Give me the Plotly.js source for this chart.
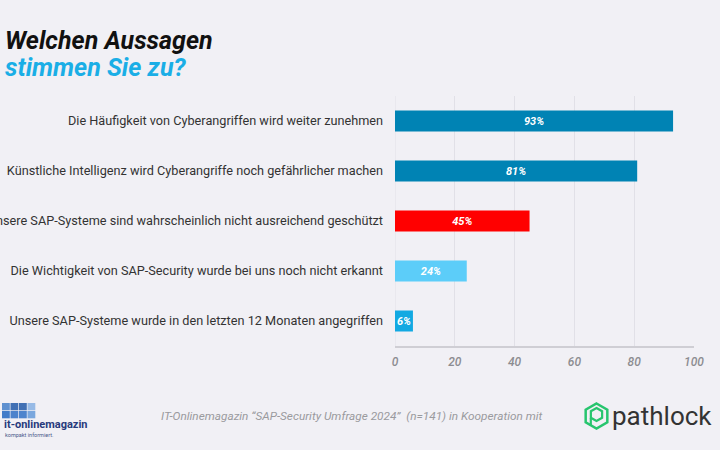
<!DOCTYPE html>
<html>
<head>
<meta charset="utf-8">
<script src="https://cdn.plot.ly/plotly-3.0.1.min.js"></script>
<style>
  html, body { margin: 0; padding: 0; background: #f1f0f5; }
  #chart { width: 720px; height: 450px; }
</style>
</head>
<body>
<div id="chart"></div>
<script>
// Survey statements (top to bottom) and share of agreement in percent
const statements = [
  "Die Häufigkeit von Cyberangriffen wird weiter zunehmen",
  "Künstliche Intelligenz wird Cyberangriffe noch gefährlicher machen",
  "Unsere SAP-Systeme sind wahrscheinlich nicht ausreichend geschützt",
  "Die Wichtigkeit von SAP-Security wurde bei uns noch nicht erkannt",
  "Unsere SAP-Systeme wurde in den letzten 12 Monaten angegriffen"
];
const agreement = [93, 81, 45, 24, 6];
const barColors = ["#0083b4", "#0083b4", "#ff0000", "#5ccdf9", "#12a9e2"];
const xTicks = [0, 20, 40, 60, 80, 100];

const W = 720, H = 450;
const M = { l: 395, r: 26, t: 96, b: 104 };
const plotW = W - M.l - M.r, plotH = H - M.t - M.b;
// pixel -> paper coordinates for decorations outside the plot area
const px = x => (x - M.l) / plotW;
const py = y => (H - M.b - y) / plotH;

const trace = {
  type: "bar",
  orientation: "h",
  y: statements,
  x: agreement,
  marker: { color: barColors, line: { width: 0 } },
  width: 0.42,
  text: agreement.map(v => "<b><i>" + v + "%</i></b>"),
  textposition: "inside",
  insidetextanchor: "middle",
  textangle: 0,
  constraintext: "none",
  textfont: { family: "Roboto", size: 11, color: "#ffffff" },
  hoverinfo: "none"
};

// it-onlinemagazin logo squares
const sq = [
  [2, 403, "#4f86cc"], [10.5, 403, "#2d62ad"], [19, 403, "#2d62ad"], [27.5, 403, "#8db4e4"],
  [2, 411, "#2f6fc4"], [10.5, 411, "#3a76c8"], [19, 411, "#3b78c9"], [27.5, 411, "#6d9edb"]
];
const shapes = sq.map(([x, y, c]) => ({
  type: "rect", xref: "paper", yref: "paper",
  x0: px(x), x1: px(x + 7.8), y0: py(y + 7.3), y1: py(y),
  fillcolor: c, line: { width: 0 }, opacity: 0.9
}));

// pathlock hexagon mark
function hexPath(cx, cy, r) {
  let d = "";
  for (let i = 0; i < 6; i++) {
    const a = Math.PI / 180 * (60 * i - 90);
    const x = px(cx + r * Math.cos(a)), y = py(cy + r * Math.sin(a));
    d += (i === 0 ? "M" : "L") + x + "," + y;
  }
  return d + "Z";
}
shapes.push({
  type: "path", xref: "paper", yref: "paper",
  path: hexPath(596.5, 416, 12.5), line: { color: "#27c56e", width: 2.5 }
});
shapes.push({
  type: "path", xref: "paper", yref: "paper",
  path: hexPath(596.5, 414.5, 6.5), line: { color: "#27c56e", width: 2.2 }
});
shapes.push({
  type: "line", xref: "paper", yref: "paper",
  x0: px(590.8), x1: px(590.8), y0: py(418), y1: py(426),
  line: { color: "#27c56e", width: 2.2 }
});

const annotations = [
  {
    xref: "paper", yref: "paper", x: px(3), y: py(40),
    xanchor: "left", yanchor: "middle", showarrow: false,
    text: "<b><i>Welchen Aussagen</i></b>",
    font: { family: "Roboto", size: 25, color: "#111111" }
  },
  {
    xref: "paper", yref: "paper", x: px(3), y: py(68),
    xanchor: "left", yanchor: "middle", showarrow: false,
    text: "<b><i>stimmen Sie zu?</i></b>",
    font: { family: "Roboto", size: 25, color: "#1aaee6" }
  },
  {
    xref: "paper", yref: "paper", x: px(352), y: py(416),
    xanchor: "center", yanchor: "middle", showarrow: false,
    text: "<i>IT-Onlinemagazin “SAP-Security Umfrage 2024”\u00a0\u00a0(n=141) in Kooperation mit</i>",
    font: { family: "Roboto", size: 11.8, color: "#9a9a9e" }
  },
  {
    xref: "paper", yref: "paper", x: px(2), y: py(424),
    xanchor: "left", yanchor: "middle", showarrow: false,
    text: "<b>it-onlinemagazin</b>",
    font: { family: "Roboto", size: 11, color: "#273a7c" }
  },
  {
    xref: "paper", yref: "paper", x: px(3), y: py(434.5),
    xanchor: "left", yanchor: "middle", showarrow: false,
    text: "kompakt informiert.",
    font: { family: "Roboto", size: 5.5, color: "#4a5a8a" }
  },
  {
    xref: "paper", yref: "paper", x: px(610), y: py(416),
    xanchor: "left", yanchor: "middle", showarrow: false,
    text: "pathlock",
    font: { family: "Roboto", size: 26, color: "#333333" }
  }
];

const layout = {
  width: W, height: H,
  margin: M,
  paper_bgcolor: "#f1f0f5",
  plot_bgcolor: "#f1f0f5",
  showlegend: false,
  xaxis: {
    range: [0, 100],
    tickvals: xTicks,
    ticktext: xTicks.map(String),
    showgrid: true, gridcolor: "#e1e0e7", gridwidth: 1,
    zeroline: false,
    showline: true, linecolor: "#cfced4", linewidth: 1.5,
    ticks: "", ticklabelstandoff: 4,
    tickfont: { family: "Roboto", size: 12, color: "#8c8c90", style: "italic", weight: 500 },
    fixedrange: true
  },
  yaxis: {
    type: "category",
    autorange: "reversed",
    showgrid: false, zeroline: false, showline: false,
    ticks: "", ticklabelstandoff: 11,
    tickfont: { family: "Roboto", size: 12.7, color: "#333333" },
    fixedrange: true
  },
  shapes: shapes.concat([
    { type: "line", xref: "x", yref: "paper", x0: 0, x1: 0, y0: 0, y1: 1,
      line: { color: "#e1e0e7", width: 1 }, layer: "below" }
  ]),
  annotations: annotations
};

Plotly.newPlot("chart", [trace], layout, { displayModeBar: false, staticPlot: true });
</script>
</body>
</html>
